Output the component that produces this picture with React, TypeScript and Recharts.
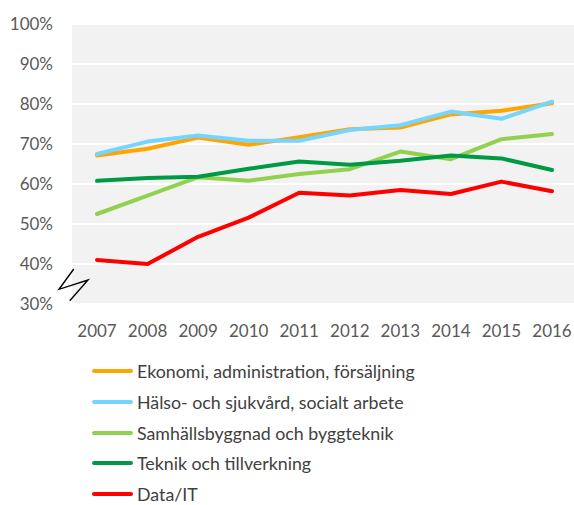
import React from "react";
import { LineChart, Line, XAxis, YAxis, CartesianGrid, ReferenceDot, Legend } from "recharts";

const years = ["2007", "2008", "2009", "2010", "2011", "2012", "2013", "2014", "2015", "2016"];
const ekonomi = [67.1, 68.8, 71.6, 69.8, 71.7, 73.7, 74.1, 77.4, 78.3, 80.2];
const halso = [67.5, 70.6, 72.1, 70.8, 70.8, 73.5, 74.7, 78.1, 76.3, 80.6];
const samhall = [52.5, 57.1, 61.7, 60.8, 62.5, 63.7, 68.1, 66.2, 71.2, 72.5];
const teknik = [60.8, 61.5, 61.8, 63.8, 65.6, 64.8, 65.8, 67.1, 66.4, 63.5];
const dataIT = [41.0, 40.0, 46.8, 51.6, 57.8, 57.1, 58.5, 57.5, 60.6, 58.2];
const yTicks = [30, 40, 50, 60, 70, 80, 90, 100];

const seriesNames = [
  "Ekonomi, administration, försäljning",
  "Hälso- och sjukvård, socialt arbete",
  "Samhällsbyggnad och byggteknik",
  "Teknik och tillverkning",
  "Data/IT",
];
const seriesKeys = ["ekonomi", "halso", "samhall", "teknik", "dataIT"];
const seriesValues = [ekonomi, halso, samhall, teknik, dataIT];
const seriesColors = ["#FFA500", "#75D5FF", "#92D050", "#009A44", "#FF0000"];

const data = years.map((y, i) => {
  const row: Record<string, string | number> = { year: y };
  seriesKeys.forEach((k, s) => {
    row[k] = seriesValues[s][i];
  });
  return row;
});

const FONT = "Lato, 'Open Sans', sans-serif";
const TEXT = "#595959";

const BreakMark = (props: any) => {
  const { cx, cy } = props;
  if (cx == null || cy == null) return null;
  const pts = [
    [cx - 23.25, cy - 15],
    [cx - 38, cy + 5.3],
    [cx - 9, cy - 4],
    [cx - 27.25, cy + 16.7],
  ];
  return (
    <polyline
      points={pts.map((p) => p.join(",")).join(" ")}
      fill="none"
      stroke="#000"
      strokeWidth={1.4}
    />
  );
};

const LegendContent = () => (
  <div style={{ fontFamily: FONT, fontSize: 17.8, color: "#404040" }}>
    {seriesNames.map((n, i) => (
      <div
        key={n}
        style={{
          display: "flex",
          alignItems: "center",
          height: 14,
          marginBottom: i < seriesNames.length - 1 ? 16.8 : 0,
        }}
      >
        <div
          style={{
            width: 41,
            height: 4,
            borderRadius: 2,
            background: seriesColors[i],
            marginRight: 4,
            flex: "none",
          }}
        />
        <span style={{ whiteSpace: "nowrap", lineHeight: "14px" }}>{n}</span>
      </div>
    ))}
  </div>
);

export default function App() {
  return (
    <div
      style={{
        position: "absolute",
        left: 0,
        top: 0,
        width: 574,
        height: 505,
        overflow: "hidden",
        background: "#fff",
      }}
    >
      <LineChart
        width={577}
        height={505}
        data={data}
        margin={{ top: 24, right: 0, left: 0, bottom: 175 }}
      >
        <CartesianGrid
          horizontal={true}
          vertical={false}
          stroke="#ffffff"
          strokeWidth={2}
          fill="#f2f2f2"
        />
        <XAxis
          dataKey="year"
          axisLine={false}
          tickLine={false}
          tickSize={0}
          tickMargin={21}
          height={26}
          padding={{ left: 25, right: 25 }}
          interval={0}
          tick={{ fill: TEXT, fontSize: 17, fontFamily: FONT }}
        />
        <YAxis
          domain={[30, 100]}
          ticks={yTicks}
          width={72}
          axisLine={false}
          tickLine={false}
          tickSize={0}
          tickMargin={19}
          interval={0}
          tickFormatter={(v: number) => `${v}%`}
          tick={{ fill: TEXT, fontSize: 17, fontFamily: FONT }}
        />
        {seriesKeys.map((k, i) => (
          <Line
            key={k}
            dataKey={k}
            name={seriesNames[i]}
            stroke={seriesColors[i]}
            strokeWidth={4}
            strokeLinejoin="round"
            strokeLinecap="round"
            dot={false}
            activeDot={false}
            isAnimationActive={false}
          />
        ))}
        <ReferenceDot x="2007" y={35} r={0} shape={BreakMark} ifOverflow="visible" />
        <Legend
          layout="vertical"
          align="center"
          verticalAlign="middle"
          wrapperStyle={{ left: 92, top: 364, width: 400 }}
          content={LegendContent}
        />
      </LineChart>
    </div>
  );
}
